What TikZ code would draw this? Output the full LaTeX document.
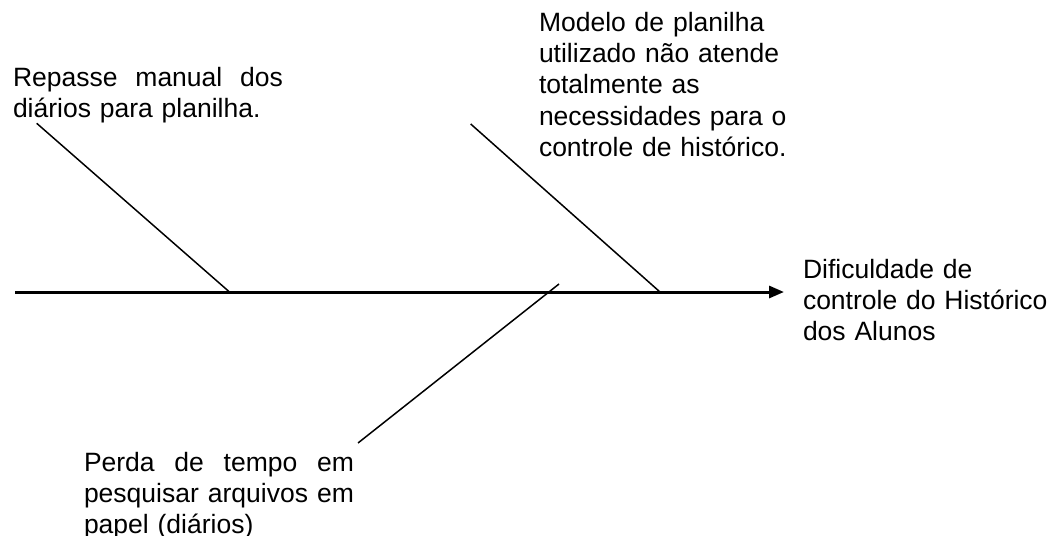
\documentclass[tikz,border=0pt]{standalone}
\usepackage{fontspec}
\setmainfont{Liberation Sans}
\usetikzlibrary{arrows.meta}
\tikzset{
  lbl/.style={anchor=base west, inner sep=0pt, outer sep=0pt, align=left,
    font=\fontsize{26.5}{31}\selectfont},
  spine/.style={line width=3pt, -{Triangle[length=15pt,width=12pt]}},
  bone/.style={line width=1.5pt}
}
\newcommand{\jline}[1]{\makebox[270pt][l]{#1}}
\begin{document}
\begin{tikzpicture}[x=1pt,y=-1pt]
  \useasboundingbox (0,0) rectangle (1048,535);
  \clip (0,0) rectangle (1048,535);
  % texts
  \node[lbl, text width=280pt] (t1) at (13,86)
    {\jline{Repasse \hfill manual \hfill dos}\\diários para planilha.};
  \node[lbl, text width=300pt] (t2) at (539,32)
    {Modelo de planilha\\utilizado não atende\\totalmente as\\necessidades para o\\controle de histórico.};
  \node[lbl, text width=280pt] (t3) at (84,471)
    {\jline{Perda \hfill de \hfill tempo \hfill em}\\\jline{pesquisar \hfill arquivos \hfill em}\\papel (diários)};
  \node[lbl, text width=250pt] (eff) at (803,278)
    {Dificuldade de\\controle do Histórico\\dos Alunos};
  % spine
  \coordinate (s0) at (15,292);
  \coordinate (tip) at (784,292);
  \draw[spine] (s0) -- (tip);
  % bones
  \coordinate (a1) at (36.7,123.3);
  \coordinate (b1) at (229.5,292);
  \coordinate (a2) at (470.7,124);
  \coordinate (b2) at (660,292);
  \coordinate (a3) at (358,443);
  \coordinate (b3) at (559,284);
  \draw[bone] (a1) -- (b1);
  \draw[bone] (a2) -- (b2);
  \draw[bone] (a3) -- (b3);
\end{tikzpicture}
\end{document}
